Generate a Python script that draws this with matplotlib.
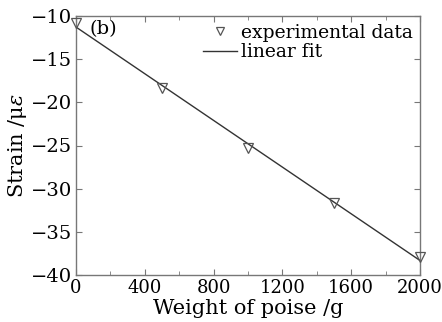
import numpy as np
import matplotlib
matplotlib.use("Agg")
import matplotlib.pyplot as plt
from matplotlib.ticker import MultipleLocator

weight = [0, 500, 1000, 1500, 2000]
strain = [-10.8, -18.3, -25.3, -31.7, -37.9]
xticks = [0, 400, 800, 1200, 1600, 2000]
yticks = [-40, -35, -30, -25, -20, -15, -10]

plt.rcParams['font.family'] = ['DejaVu Serif']
plt.rcParams['mathtext.fontset'] = 'dejavuserif'

k, b = np.polyfit(weight, strain, 1)
xf = np.array([weight[0], weight[-1]])

fig = plt.figure(figsize=(4.42, 3.22), dpi=100)
ax = fig.add_axes([76 / 442, 1 - 275 / 322, 344 / 442, 259 / 322])

ax.plot(xf, k * xf + b, color='#333333', lw=1.0, label='linear fit')
ax.plot(weight, strain, linestyle='none', marker='v', markersize=7,
        markerfacecolor='none', markeredgecolor='#555555', markeredgewidth=0.9,
        label='experimental data', clip_on=False, zorder=5)

ax.set_xlim(0, 2000)
ax.set_ylim(-40, -10)
ax.set_xticks(xticks)
ax.set_yticks(yticks)
ax.xaxis.set_minor_locator(MultipleLocator(200))
ax.tick_params(which='both', direction='in', top=True, right=True,
               color='#777777', labelsize=14, pad=3)
ax.tick_params(axis='x', labelsize=13)
ax.tick_params(which='major', length=4)
ax.tick_params(which='minor', length=3)
for s in ax.spines.values():
    s.set_color('#777777')
    s.set_linewidth(1.0)

ax.set_xlabel('Weight of poise /g', fontsize=15, labelpad=1)
ax.set_ylabel(r'Strain /μ$\varepsilon$', fontsize=15, labelpad=1)

ax.text(0.04, 0.985, '(b)', transform=ax.transAxes, fontsize=14,
        va='top', ha='left')

h, l = ax.get_legend_handles_labels()
ax.legend(h[::-1], l[::-1], loc='upper right', frameon=False, fontsize=13.5,
          handlelength=1.8, handletextpad=0.2, borderaxespad=0.1,
          labelspacing=0.1, borderpad=0.3, markerscale=0.75)

fig.savefig('out.png', dpi=100)
